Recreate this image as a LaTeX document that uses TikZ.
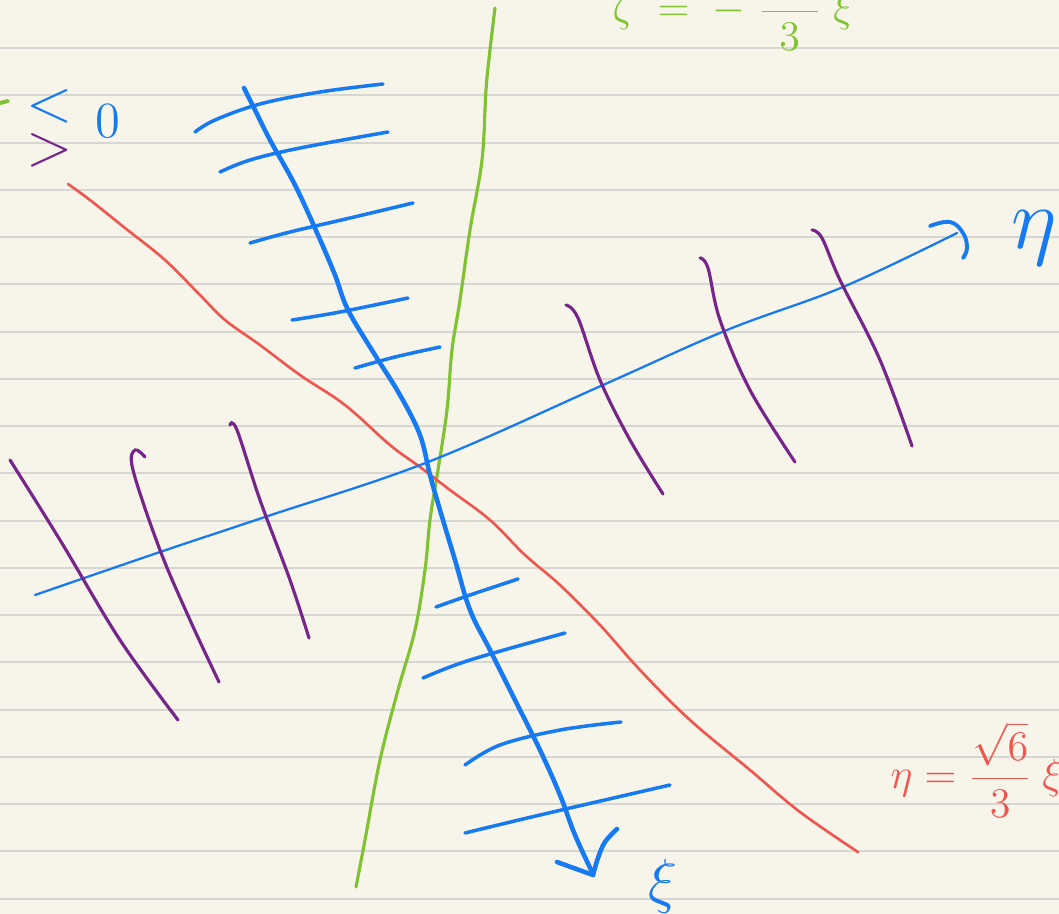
\documentclass[tikz,border=0pt]{standalone}
\usepackage{amsmath,amssymb}
\usepackage{tikz}
\usetikzlibrary{positioning}
\definecolor{paper}{RGB}{247,245,234}
\definecolor{rulegray}{RGB}{214,214,210}
\definecolor{pen}{RGB}{24,122,240}
\definecolor{leaf}{RGB}{128,194,50}
\definecolor{coral}{RGB}{240,86,80}
\definecolor{plum}{RGB}{118,38,138}
\tikzset{
  ruled/.style={draw=rulegray,line width=0.6pt},
  xiaxis/.style={pen,line width=1.3pt,line cap=round,line join=round},
  etaaxis/.style={pen,line width=0.65pt,line cap=round,line join=round},
  xihatch/.style={pen,line width=1pt,line cap=round},
  etahatch/.style={plum,line width=0.9pt,line cap=round},
  zetaline/.style={leaf,line width=0.9pt,line cap=round},
  levelline/.style={coral,line width=0.75pt,line cap=round},
  lbl/.style={inner sep=0pt,font=\LARGE},
}

\begin{document}
\begin{tikzpicture}[x=0.01cm,y=-0.01cm]
\fill[paper] (0,0) rectangle (1059,914);
\useasboundingbox (0,0) rectangle (1059,914);
% ruled paper
\foreach \k in {1,...,19}
  \draw[ruled] (0,{0.8+47.25*\k}) -- (1059,{0.8+47.25*\k});

% zeta = const line
\draw[zetaline] plot[smooth,tension=0.6] coordinates {(495,8) (490,50) (486,90) (482,160) (470,230) (460,300) (452,350) (447,410) (438,470) (430,520) (425,570) (415,630) (398,690) (380,760) (365,840) (356,887)};

% level line
\draw[levelline] plot[smooth,tension=0.6] coordinates {(68,184) (90,200) (125,228) (165,260) (200,295) (225,320) (260,345) (300,375) (345,405) (390,445) (420,467) (450,490) (490,520) (525,555) (560,585) (600,625) (640,670) (690,720) (750,770) (800,812) (858,852)};

% eta axis
\draw[etaaxis] plot[smooth,tension=0.6] coordinates {(35,595) (160,552) (268,516) (428,462) (603,385) (727,330) (843,287) (957,233)};
\draw[etaaxis,line width=1.1pt] plot[smooth,tension=0.7] coordinates {(930,226) (950,222) (963,233) (967,248) (963,258)};

% xi axis
\draw[xiaxis] plot[smooth,tension=0.6] coordinates {(244,88) (255,110) (270,140) (295,185) (318,235) (335,275) (348,310) (375,355) (400,395) (420,435) (430,475) (440,510) (455,560) (470,610) (490,650) (515,700) (540,750) (560,795) (575,835) (593,874)};
\draw[xiaxis] (557,862) -- (593,875);
\draw[xiaxis] plot[smooth,tension=0.6] coordinates {(617,829) (605,842) (598,858) (593,875)};

% hatches along xi
\draw[xihatch] plot[smooth,tension=0.6] coordinates {(195,132) (215,120) (260,104) (320,92) (383,84)};
\draw[xihatch] plot[smooth,tension=0.6] coordinates {(220,172) (250,160) (300,148) (388,132)};
\draw[xihatch] plot[smooth,tension=0.6] coordinates {(250,243) (290,232) (350,218) (413,203)};
\draw[xihatch] plot[smooth,tension=0.6] coordinates {(292,320) (340,312) (408,298)};
\draw[xihatch] plot[smooth,tension=0.6] coordinates {(355,368) (395,357) (440,347)};
\draw[xihatch] plot[smooth,tension=0.6] coordinates {(436,607) (470,595) (518,579)};
\draw[xihatch] plot[smooth,tension=0.6] coordinates {(423,678) (470,660) (565,633)};
\draw[xihatch] plot[smooth,tension=0.6] coordinates {(465,765) (500,745) (560,730) (621,722)};
\draw[xihatch] plot[smooth,tension=0.6] coordinates {(465,833) (540,815) (670,785)};

% hatches along eta
\draw[etahatch] plot[smooth,tension=0.6] coordinates {(566,305) (578,318) (600,380) (630,440) (663,494)};
\draw[etahatch] plot[smooth,tension=0.6] coordinates {(700,258) (708,268) (720,320) (750,390) (795,462)};
\draw[etahatch] plot[smooth,tension=0.6] coordinates {(812,230) (822,238) (840,280) (880,360) (912,446)};
\draw[etahatch] plot[smooth,tension=0.6] coordinates {(10,460) (60,540) (120,640) (178,720)};
\draw[etahatch] plot[smooth,tension=0.6] coordinates {(145,457) (135,450) (133,470) (160,550) (190,620) (219,682)};
\draw[etahatch] plot[smooth,tension=0.6] coordinates {(230,425) (237,430) (260,500) (290,580) (309,638)};

% labels
\node[lbl,text=leaf,font=\large,anchor=west] (zetalbl) at (612,3) {$\zeta \;=\; -\;\dfrac{\sqrt{3}}{3}\;\xi$};
\node[lbl,text=pen,font=\Huge] (etalbl) at (1034,238) {$\eta$};
\node[lbl,text=pen] (xilbl) at (663,886) {$\xi$};
\node[lbl,text=coral,font=\large,anchor=west] (levellbl) at (890,770) {$\eta = \dfrac{\sqrt{6}}{3}\hspace{0.1cm}\xi$};
\node[lbl,text=pen] (lesslbl) at (50,106) {$<$};
\node[lbl,text=pen,font=\Large] (zerolbl) at (108,121) {$0$};
\node[lbl,text=plum] (morelbl) at (50,150) {$>$};
\coordinate (cutA) at (0,103);
\coordinate (cutB) at (8,101);
\draw[zetaline,line width=1.1pt] (cutA) -- (cutB);
\end{tikzpicture}
\end{document}
